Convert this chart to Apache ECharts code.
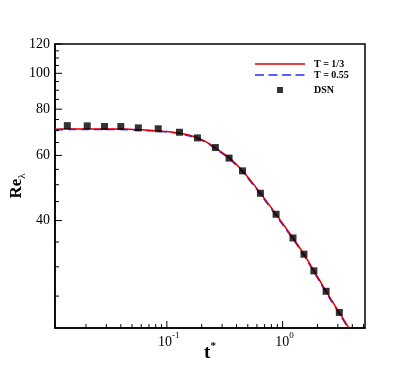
<!DOCTYPE html>
<html>
<head>
<meta charset="utf-8">
<script src="https://cdn.jsdelivr.net/npm/echarts@6/dist/echarts.min.js"></script>
<style>
html,body{margin:0;padding:0;background:#fff;}
#chart{width:415px;height:369px;}
</style>
</head>
<body>
<div id="chart"></div>
<script>
// ---- data ----
const tCurve = [0.0108, 0.015, 0.02, 0.03, 0.04, 0.06, 0.08, 0.1, 0.13, 0.16, 0.2, 0.25, 0.3, 0.35, 0.45, 0.6, 0.8, 1.0, 1.3, 1.6, 2.0, 2.5, 3.0, 3.72];
const reT13 = [70.6, 70.7, 70.7, 70.7, 70.7, 70.4, 70.0, 69.6, 68.9, 67.9, 66.2, 63.6, 61.1, 59.0, 54.5, 48.8, 43.3, 39.3, 35.0, 31.7, 28.2, 25.1, 22.9, 20.55];
const reT055 = [70.4, 70.5, 70.5, 70.5, 70.5, 70.2, 69.8, 69.4, 68.7, 67.6, 65.9, 63.3, 60.8, 58.7, 54.2, 48.5, 43.0, 39.0, 34.8, 31.5, 28.0, 24.9, 22.75, 20.4];
const tDSN = [0.0138, 0.0205, 0.0289, 0.0400, 0.0567, 0.0842, 0.1286, 0.1836, 0.2624, 0.3446, 0.450, 0.643, 0.878, 1.229, 1.528, 1.862, 2.376, 3.09];
const reDSN = [72.2, 72.1, 71.8, 71.8, 71.2, 70.8, 69.3, 66.9, 63.0, 59.0, 54.5, 47.4, 41.6, 35.9, 32.45, 29.25, 25.76, 22.58];

const seriesNames = ['T = 1/3', 'T = 0.55', 'DSN'];
const tMin = 0.0108, tMax = 5.15;
const reMin = 20.5, reMax = 120;
const xMajorTicks = [0.1, 1];
const xMinorTicks = [0.02, 0.03, 0.04, 0.05, 0.06, 0.07, 0.08, 0.09, 0.2, 0.3, 0.4, 0.5, 0.6, 0.7, 0.8, 0.9, 2, 3, 4, 5];
const xTickLabels = ['{b|10}{s|-1}', '{b|10}{s|0}'];
const yMajorTicks = [40, 60, 80, 100, 120];
const yMinorTicks = [25, 30, 35, 45, 50, 55, 65, 70, 75, 85, 90, 95, 105, 110, 115];
const yTickLabels = ['40', '60', '80', '100', '120'];

const FONT = '"Liberation Serif", "Times New Roman", serif';
const ICON_SOLID = 'path://M0,0M50,10M0,4.25h50v1.5h-50z';
const ICON_DASH = 'path://M0,0M50,10M0,4.25h9v1.5h-9zM13.5,4.25h9v1.5h-9zM27,4.25h9v1.5h-9zM40.5,4.25h9v1.5h-9z';
const ICON_SQUARE = 'path://M0,0M50,0M50,10M0,10M22,2h6v6h-6z';

function zip(a, b) { return a.map((v, i) => [v, b[i]]); }

const chart = echarts.init(document.getElementById('chart'), null, {renderer: 'canvas'});

function tickSeries(name, data, isX, len) {
  return {
    type: 'custom', name: name, silent: true, z: 5,
    data: data.map(v => isX ? [v, reMin] : [tMin, v]),
    renderItem: function (params, api) {
      const p = api.coord([api.value(0), api.value(1)]);
      const shape = isX ? {x1: p[0], y1: p[1], x2: p[0], y2: p[1] - len}
                        : {x1: p[0], y1: p[1], x2: p[0] + len, y2: p[1]};
      return {type: 'line', shape: shape, style: {stroke: '#000', lineWidth: 1}};
    }
  };
}

function labelSeries(name, values, labels, isX) {
  return {
    type: 'custom', name: name, silent: true, z: 5,
    data: values.map((v, i) => isX ? [v, reMin, i] : [tMin, v, i]),
    renderItem: function (params, api) {
      const p = api.coord([api.value(0), api.value(1)]);
      const lab = labels[api.value(2)];
      if (isX) {
        return {type: 'text', style: {
          text: lab, x: p[0] + 2, y: p[1] + 3, align: 'center', verticalAlign: 'top',
          fill: '#000',
          rich: {
            b: {fontSize: 14, fontFamily: FONT, fill: '#000', lineHeight: 18, verticalAlign: 'bottom'},
            s: {fontSize: 9, fontFamily: FONT, fill: '#000', lineHeight: 18, verticalAlign: 'top'}
          }
        }};
      }
      return {type: 'text', style: {
        text: lab, x: p[0] - 5, y: p[1], align: 'right', verticalAlign: 'middle',
        fill: '#000', font: '14px ' + FONT
      }};
    }
  };
}

const legendText = {fontFamily: FONT, fontSize: 10, fontWeight: 'bold', color: '#000', padding: [0, 0, 0, 4]};

const option = {
  backgroundColor: '#fff',
  animation: false,
  grid: {left: 54, top: 44, right: 50, bottom: 41, show: true, borderColor: '#000', borderWidth: 1.5, backgroundColor: 'transparent'},
  legend: [
    {
      data: [{name: seriesNames[0], icon: ICON_SOLID}, {name: seriesNames[1], icon: ICON_DASH}],
      orient: 'vertical', left: 255, top: 59, padding: 0,
      itemWidth: 50, itemHeight: 10, itemGap: 1,
      textStyle: legendText
    },
    {
      data: [{name: seriesNames[2], icon: ICON_SQUARE}],
      orient: 'vertical', left: 255, top: 85, padding: 0,
      itemWidth: 50, itemHeight: 10,
      textStyle: legendText
    }
  ],
  xAxis: {
    type: 'log', logBase: 10, min: tMin, max: tMax,
    name: '{a|t}{s|*}', nameLocation: 'middle', nameGap: 13,
    nameTextStyle: {
      rich: {
        a: {fontSize: 19, fontWeight: 'bold', fontFamily: FONT, color: '#000', lineHeight: 22, verticalAlign: 'bottom'},
        s: {fontSize: 11, fontWeight: 'bold', fontFamily: FONT, color: '#000', lineHeight: 22, verticalAlign: 'top'}
      }
    },
    axisLine: {show: true, lineStyle: {color: '#000', width: 1.5}},
    axisTick: {show: false}, axisLabel: {show: false}, splitLine: {show: false}, minorTick: {show: false}
  },
  yAxis: {
    type: 'log', logBase: 10, min: reMin, max: reMax,
    name: '{a|Re}{b|λ}', nameLocation: 'middle', nameGap: 27,
    nameTextStyle: {
      rich: {
        a: {fontSize: 17, fontWeight: 'bold', fontFamily: FONT, color: '#000', lineHeight: 20, verticalAlign: 'top'},
        b: {fontSize: 11, fontFamily: FONT, color: '#000', lineHeight: 20, verticalAlign: 'bottom'}
      }
    },
    axisLine: {show: true, lineStyle: {color: '#000', width: 1.5}},
    axisTick: {show: false}, axisLabel: {show: false}, splitLine: {show: false}, minorTick: {show: false}
  },
  series: [
    {
      name: seriesNames[1], type: 'line', data: zip(tCurve, reT055), symbol: 'none',
      smooth: 0.15, z: 3,
      lineStyle: {color: '#2b2bff', width: 1.6, type: [8, 5]}, itemStyle: {color: '#2b2bff'}
    },
    {
      name: seriesNames[0], type: 'line', data: zip(tCurve, reT13), symbol: 'none',
      smooth: 0.15, z: 4,
      lineStyle: {color: '#dd0000', width: 1.5}, itemStyle: {color: '#dd0000'}
    },
    {
      name: seriesNames[2], type: 'scatter', data: zip(tDSN, reDSN), symbol: 'rect', symbolSize: 7, z: 6,
      itemStyle: {color: '#000'}
    },
    tickSeries('xMajor', xMajorTicks, true, 7),
    tickSeries('xMinor', xMinorTicks, true, 4),
    tickSeries('yMajor', yMajorTicks, false, 7),
    tickSeries('yMinor', yMinorTicks, false, 4),
    labelSeries('xLab', xMajorTicks, xTickLabels, true),
    labelSeries('yLab', yMajorTicks, yTickLabels, false)
  ]
};
chart.setOption(option);
</script>
</body>
</html>
